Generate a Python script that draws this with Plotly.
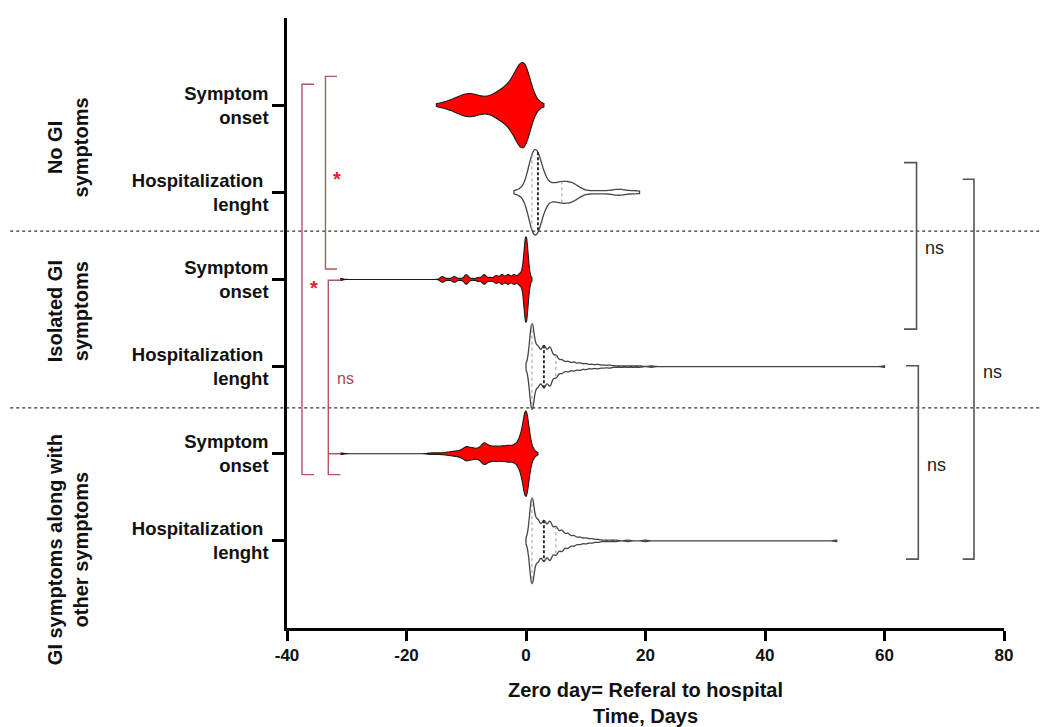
import numpy as np
import plotly.graph_objects as go

# ---------------- data ----------------
positions = [0, 1, 2, 3, 4, 5]
category_labels = [
    "Symptom<br>onset", "Hospitalization\u00a0<br>lenght",
    "Symptom<br>onset", "Hospitalization\u00a0<br>lenght",
    "Symptom<br>onset", "Hospitalization\u00a0<br>lenght",
]
group_labels = ["No GI<br>symptoms", "Isolated GI<br>symptoms",
                "GI symptoms along with<br>other symptoms"]
group_label_pos = [0.49, 2.37, 5.1]

# No GI symptoms
nogi_onset_days = list(range(-15, 4))
nogi_onset_counts = [1, 2, 3, 5, 7, 9, 9, 7, 6, 6, 10, 12, 15, 22, 33, 40, 7, 2, 1]
nogi_hosp_days = [-2, -1, 0, 1, 2, 3, 4, 5, 6, 7, 8, 9, 10, 11, 12, 13, 14, 15, 16, 17, 18, 19]
nogi_hosp_counts = [1, 2, 4, 30, 30, 10, 5, 6, 7, 7, 6, 3, 1, 1, 1, 1, 1, 2, 2, 1, 1, 1]
# Isolated GI symptoms
iso_onset_days = [-31, -14, -13, -12, -11, -10, -9, -8, -7, -6, -5, -4, -3, -2, -1, 0, 1]
iso_onset_counts = [1, 3, 1, 3, 1, 5, 1, 2, 5, 2, 4, 5, 5, 5, 6, 45, 1]
iso_hosp_days = [0, 1, 2, 3, 4, 5, 6, 7, 8, 9, 10, 11, 12, 13, 14, 15, 16, 17, 18, 19, 21, 60]
iso_hosp_counts = [2, 60, 26, 28, 26, 15, 9, 7, 6, 5, 4, 3, 3, 2, 2, 1, 1, 1, 1, 1, 1, 1]
# GI symptoms along with other symptoms
gi_onset_days = [-31, -16, -15, -14, -13, -12, -11, -10, -9, -8, -7, -6, -5, -4, -3, -2, -1, 0, 1, 2]
gi_onset_counts = [1, 1, 1, 1, 2, 3, 4, 9, 7, 6, 14, 9, 9, 9, 10, 10, 18, 60, 6, 1]
gi_hosp_days = [0, 1, 2, 3, 4, 5, 6, 7, 8, 9, 10, 11, 12, 13, 14, 15, 17, 20, 52]
gi_hosp_counts = [2, 60, 27, 27, 26, 19, 14, 10, 7, 5, 4, 3, 2, 1, 1, 1, 1, 1, 1]

bandwidths = [0.9, 0.75, 0.35, 0.4, 0.5, 0.4]

x_tickvals = [-40, -20, 0, 20, 40, 60, 80]
x_ticktext = ["-40", "-20", "0", "20", "40", "60", "80"]

# significance brackets: (x_vertical, x_arm, y_top, y_bottom, extra arms)
left_brackets = [(-37.49, -35.48, -0.24, 4.24, []),
                 (-33.56, -31.63, -0.33, 1.88, []),
                 (-33.09, -31.05, 2.01, 4.24, [4.0])]
right_brackets = [(65.36, 63.26, 0.66, 2.57), (65.66, 63.6, 2.99, 5.21), (74.98, 73.09, 0.85, 5.21)]
left_marks = [("*", -31.63, 0.85, 20, "#e8202a", 700, "center"),
              ("*", -35.56, 2.10, 20, "#e8202a", 700, "center"),
              ("ns", -31.97, 3.14, 16, "#a84850", 400, "left")]
right_marks = [("ns", 66.4, 1.64), ("ns", 66.7, 4.13), ("ns", 76.1, 3.06)]
separators = [1.445, 3.475]

# ---------------- figure ----------------
datasets = [
    (nogi_onset_days, nogi_onset_counts),
    (nogi_hosp_days, nogi_hosp_counts),
    (iso_onset_days, iso_onset_counts),
    (iso_hosp_days, iso_hosp_counts),
    (gi_onset_days, gi_onset_counts),
    (gi_hosp_days, gi_hosp_counts),
]
VW = 0.98
FONT = "Liberation Sans, Arial, sans-serif"

fig = go.Figure()


def kde(vals, bw, t):
    t = np.atleast_1d(np.asarray(t, float))
    return np.exp(-0.5 * ((t[:, None] - vals[None, :]) / bw) ** 2).sum(1) / (len(vals) * bw * np.sqrt(2 * np.pi))


for i, ((days, counts), pos, bw) in enumerate(zip(datasets, positions, bandwidths)):
    vals = np.repeat(np.array(days, float), counts)
    onset = (i % 2 == 0)
    fig.add_trace(go.Violin(
        x=vals, y0=pos, orientation="h", width=VW, scalemode="width",
        spanmode="hard", bandwidth=bw, points=False,
        box_visible=False, meanline_visible=False, side="both",
        fillcolor="#ff0000" if onset else "#ffffff",
        line=dict(color="#1a1a1a" if onset else "#454545", width=1.1 if onset else 1.3),
        opacity=1, showlegend=False, hoverinfo="skip",
    ))
    if not onset:
        lo, hi = vals.min(), vals.max()
        n = int(np.ceil((hi - lo) / (bw / 3)))
        grid = np.linspace(lo, hi, n + 1)
        maxk = kde(vals, bw, grid).max()
        q1, med, q3 = np.percentile(vals, [25, 50, 75])
        for q, style in ((q1, "q"), (q3, "q"), (med, "m")):
            h = VW / 2 * kde(vals, bw, q)[0] / maxk
            fig.add_trace(go.Scatter(
                x=[q, q], y=[pos - h, pos + h], mode="lines", showlegend=False, hoverinfo="skip",
                line=dict(color="#9a9a9a" if style == "q" else "#222222",
                          width=1.0 if style == "q" else 1.8,
                          dash="dot" if style == "q" else "3px,2px"),
            ))

shapes = []
for y in separators:
    shapes.append(dict(type="line", xref="paper", yref="y", x0=-0.386, x1=1.07, y0=y, y1=y,
                       line=dict(color="#333333", width=1.2, dash="dot")))
for xv, xa, yt, yb, extra in left_brackets:
    path = f"M {xa},{yt} L {xv},{yt} L {xv},{yb} L {xa},{yb}"
    for ye in extra:
        path += f" M {xv},{ye} L {xa},{ye}"
    shapes.append(dict(type="path", xref="x", yref="y", path=path,
                       line=dict(color="#b0575e", width=1.4)))
for xv, xa, yt, yb in right_brackets:
    path = f"M {xa},{yt} L {xv},{yt} L {xv},{yb} L {xa},{yb}"
    shapes.append(dict(type="path", xref="x", yref="y", path=path,
                       line=dict(color="#555555", width=1.6)))

annotations = []
for txt, yp in zip(group_labels, group_label_pos):
    annotations.append(dict(text=txt, xref="paper", yref="y", x=-0.306, y=yp, textangle=-90,
                            showarrow=False, xanchor="center", yanchor="middle", align="center",
                            font=dict(family=FONT, size=20, color="#111111", weight=700)))
for txt, xp, yp, sz, col, wt, anc in left_marks:
    annotations.append(dict(text=txt, x=xp, y=yp, xref="x", yref="y", showarrow=False,
                            xanchor=anc, yanchor="middle",
                            font=dict(family=FONT, size=sz, color=col, weight=wt)))
for txt, xp, yp in right_marks:
    annotations.append(dict(text=txt, x=xp, y=yp, xref="x", yref="y", showarrow=False,
                            xanchor="left", yanchor="middle",
                            font=dict(family=FONT, size=18, color="#222222")))

# the page body adds an 8 px offset, so the figure is 8 px smaller than the window
fig.update_layout(
    width=1041, height=719,
    margin=dict(l=279, r=45, t=10, b=99),
    paper_bgcolor="white", plot_bgcolor="white",
    violinmode="overlay",
    shapes=shapes, annotations=annotations,
    font=dict(family=FONT, color="#111111"),
    xaxis=dict(range=[-40, 80], tickvals=x_tickvals, ticktext=x_ticktext,
               showline=True, linecolor="#000000", linewidth=2.5, mirror=False,
               ticks="outside", ticklen=10, tickwidth=2.5, tickcolor="#000000",
               automargin=False,
               tickfont=dict(family=FONT, size=17, color="#111111", weight=700),
               showgrid=False, zeroline=False,
               title=dict(text="Zero day= Referal to hospital<br>Time, Days", standoff=28,
                          font=dict(family=FONT, size=20, color="#111111", weight=700))),
    yaxis=dict(range=[6, -1], tickvals=positions, ticktext=category_labels,
               showline=True, linecolor="#000000", linewidth=2.5,
               ticks="outside", ticklen=12, tickwidth=2.5, tickcolor="#000000",
               tickfont=dict(family=FONT, size=18.5, color="#111111", weight=700),
               showgrid=False, zeroline=False),
)

fig.write_html("out.html")
